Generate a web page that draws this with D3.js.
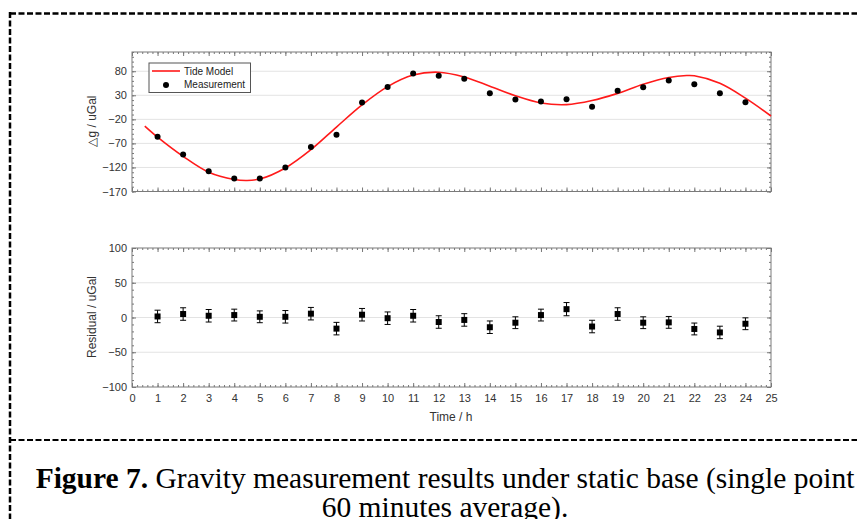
<!DOCTYPE html>
<html>
<head>
<meta charset="utf-8">
<script src="https://cdn.jsdelivr.net/npm/d3@7"></script>
<style>
  body { margin: 0; background: #fff; }
  svg { display: block; }
  .tick text { font-family: Arial, "Liberation Sans", sans-serif; font-size: 11px; fill: #333; }
  .domain { display: none; }
</style>
</head>
<body>
<div id="chart"></div>
<script>
// measurement hours
var hours = d3.range(1, 25);

// measured gravity change (uGal)
var measured = [-56, -93, -128, -143, -143, -120, -77.5, -52, 15, 47.5, 75.5, 70.5,
  64.5, 34.5, 21.5, 17, 22, 6, 39.5, 46.5, 61, 53, 34.5, 15.5];

// tide model
var tideHours = [0.5, 1, 2, 3, 4, 4.5, 5, 6, 7, 8, 9, 10, 11, 12, 13, 14, 15, 16, 17, 18,
  19, 20, 21, 21.7, 22, 23, 24, 25];
var tideValues = [-34, -57, -97, -130, -145, -147, -144, -121, -83, -36, 10, 48, 72, 78,
  68, 49, 29, 14, 10.5, 19, 34, 53, 67, 71, 70.5, 55, 24, -13];

// residuals and their error bars (uGal)
var residuals = [1.5, 5, 2.5, 3.5, 1, 1, 5.5, -16, 4, -1, 2.5, -6.5, -3.5, -14, -7.5,
  3.5, 12, -13, 5, -7.5, -7, -16.5, -21.5, -9];
var residualErr = [9, 9, 9, 8.5, 8.5, 9, 9, 9, 9, 9, 9, 9, 9, 9, 8.5, 8.5, 9.5, 9, 9,
  8.5, 8.5, 8.5, 9, 8.5];

var topTicks = [-170, -120, -70, -20, 30, 80];
var bottomTicks = [-100, -50, 0, 50, 100];
var xTicks = d3.range(0, 26);

var width = 857;
var height = 519;

var svg = d3.select('#chart')
  .append('svg')
  .attr('width', width)
  .attr('height', height)

svg.append('rect').attr('width', width).attr('height', height).attr('fill', '#fff')

var x = d3.scaleLinear().domain([0, 25]).range([132, 771])
var yTop = d3.scaleLinear().domain([-170, 120]).range([191.5, 52])
var yBot = d3.scaleLinear().domain([-100, 100]).range([387, 248])

function panel(y, yTicks, showXLabels) {
  var y0 = y.range()[0], y1 = y.range()[1]
  var g = svg.append('g')

  // horizontal grid
  g.selectAll('.grid')
    .data(yTicks.filter(function (d) { return y(d) > y1 + 1 && y(d) < y0 - 1 }))
    .enter()
    .append('line')
    .attr('x1', x(0)).attr('x2', x(25))
    .attr('y1', function (d) { return y(d) })
    .attr('y2', function (d) { return y(d) })
    .attr('stroke', '#e3e3e3')
    .attr('stroke-width', 1)

  var yMinor = d3.range(y.domain()[0], y.domain()[1] + 0.1, 10)
  var xMinor = d3.range(0, 25.01, 0.2)

  // minor ticks
  g.append('g').attr('transform', 'translate(' + x(0) + ',0)')
    .call(d3.axisLeft(y).tickValues(yMinor).tickSize(-2).tickFormat(''))
  g.append('g').attr('transform', 'translate(' + x(25) + ',0)')
    .call(d3.axisRight(y).tickValues(yMinor).tickSize(-2).tickFormat(''))
  g.append('g').attr('transform', 'translate(0,' + y0 + ')')
    .call(d3.axisBottom(x).tickValues(xMinor).tickSize(-2).tickFormat(''))
  g.append('g').attr('transform', 'translate(0,' + y1 + ')')
    .call(d3.axisTop(x).tickValues(xMinor).tickSize(-2).tickFormat(''))

  // major ticks
  g.append('g').attr('transform', 'translate(' + x(0) + ',0)')
    .call(d3.axisLeft(y).tickValues(yTicks).tickSize(-4).tickPadding(5))
  g.append('g').attr('transform', 'translate(' + x(25) + ',0)')
    .call(d3.axisRight(y).tickValues(yTicks).tickSize(-4).tickFormat(''))
  var xb = g.append('g').attr('transform', 'translate(0,' + y0 + ')')
    .call(d3.axisBottom(x).tickValues(xTicks).tickSize(-4).tickPadding(7))
  if (!showXLabels) xb.selectAll('text').remove()
  g.append('g').attr('transform', 'translate(0,' + y1 + ')')
    .call(d3.axisTop(x).tickValues(xTicks).tickSize(-4).tickFormat(''))

  g.selectAll('.tick line').attr('stroke', '#777')

  // frame
  g.append('rect')
    .attr('x', x(0)).attr('y', y1)
    .attr('width', x(25) - x(0)).attr('height', y0 - y1)
    .attr('fill', 'none')
    .attr('stroke', '#7a7a7a')
    .attr('stroke-width', 1)
  return g
}

var gTop = panel(yTop, topTicks, false)
var gBot = panel(yBot, bottomTicks, true)

// tide model curve
var tide = tideHours.map(function (h, i) { return [h, tideValues[i]] })
svg.append('path')
  .datum(tide)
  .attr('fill', 'none')
  .attr('stroke', '#ff1a1a')
  .attr('stroke-width', 1.6)
  .attr('d', d3.line()
    .x(function (d) { return x(d[0]) })
    .y(function (d) { return yTop(d[1]) })
    .curve(d3.curveCatmullRom))

// measurements
svg.selectAll('.meas')
  .data(hours)
  .enter()
  .append('circle')
  .attr('cx', function (d) { return x(d) })
  .attr('cy', function (d, i) { return yTop(measured[i]) })
  .attr('r', 3)
  .attr('fill', '#000')

// residual error bars
var eb = svg.selectAll('.eb')
  .data(hours)
  .enter()
  .append('g')
  .attr('stroke', '#000')
  .attr('stroke-width', 1)
eb.append('line')
  .attr('x1', function (d) { return x(d) }).attr('x2', function (d) { return x(d) })
  .attr('y1', function (d, i) { return yBot(residuals[i] + residualErr[i]) })
  .attr('y2', function (d, i) { return yBot(residuals[i] - residualErr[i]) })
eb.append('line')
  .attr('x1', function (d) { return x(d) - 3 }).attr('x2', function (d) { return x(d) + 3 })
  .attr('y1', function (d, i) { return yBot(residuals[i] + residualErr[i]) })
  .attr('y2', function (d, i) { return yBot(residuals[i] + residualErr[i]) })
eb.append('line')
  .attr('x1', function (d) { return x(d) - 3 }).attr('x2', function (d) { return x(d) + 3 })
  .attr('y1', function (d, i) { return yBot(residuals[i] - residualErr[i]) })
  .attr('y2', function (d, i) { return yBot(residuals[i] - residualErr[i]) })
svg.selectAll('.res')
  .data(hours)
  .enter()
  .append('rect')
  .attr('x', function (d) { return x(d) - 3 })
  .attr('y', function (d, i) { return yBot(residuals[i]) - 3 })
  .attr('width', 6).attr('height', 6)
  .attr('fill', '#000')

// axis labels
var lab = { 'font-family': 'Arial, "Liberation Sans", sans-serif', 'font-size': '12px', 'fill': '#333' }
function label(txt, px, py, rot) {
  var t = svg.append('text').text(txt)
    .attr('text-anchor', 'middle')
    .attr('transform', 'translate(' + px + ',' + py + ')' + (rot ? ' rotate(-90)' : ''))
  for (var k in lab) t.attr(k, lab[k])
}
label('\u25b3g / uGal', 96, 121, true)
label('Residual / uGal', 96, 317, true)
label('Time / h', 451, 421, false)

// legend
var leg = svg.append('g')
leg.append('rect').attr('x', 149).attr('y', 63).attr('width', 101.5).attr('height', 29.5)
  .attr('fill', '#fff').attr('stroke', '#555').attr('stroke-width', 1)
leg.append('line').attr('x1', 152).attr('x2', 180).attr('y1', 71).attr('y2', 71)
  .attr('stroke', '#ff1a1a').attr('stroke-width', 1.6)
leg.append('circle').attr('cx', 166).attr('cy', 85).attr('r', 3).attr('fill', '#000')
leg.selectAll('text')
  .data(['Tide Model', 'Measurement'])
  .enter()
  .append('text')
  .attr('x', 184)
  .attr('y', function (d, i) { return 74.5 + i * 13.5 })
  .attr('font-family', 'Arial, "Liberation Sans", sans-serif')
  .attr('font-size', '10px')
  .attr('fill', '#222')
  .text(function (d) { return d })

// dashed frame around the figure
var dash = svg.append('g').attr('stroke', '#000').attr('stroke-dasharray', '6,2.5')
dash.append('line').attr('x1', 10).attr('x2', width).attr('y1', 13.5).attr('y2', 13.5).attr('stroke-width', 2.5)
dash.append('line').attr('x1', 10).attr('x2', 10).attr('y1', 12).attr('y2', height).attr('stroke-width', 2.5)
dash.append('line').attr('x1', 10).attr('x2', width).attr('y1', 440).attr('y2', 440).attr('stroke-width', 2)

// caption
var cap = svg.append('text')
  .attr('x', 445).attr('y', 488)
  .attr('text-anchor', 'middle')
  .attr('font-family', '"Liberation Serif", "Times New Roman", serif')
  .attr('font-size', '29.5px')
  .attr('fill', '#000')
cap.append('tspan').attr('font-weight', 'bold').text('Figure 7.')
cap.append('tspan').text(' Gravity measurement results under static base (single point')
svg.append('text')
  .attr('x', 445).attr('y', 517)
  .attr('text-anchor', 'middle')
  .attr('font-family', '"Liberation Serif", "Times New Roman", serif')
  .attr('font-size', '29.5px')
  .attr('fill', '#000')
  .text('60 minutes average).')
</script>
</body>
</html>
